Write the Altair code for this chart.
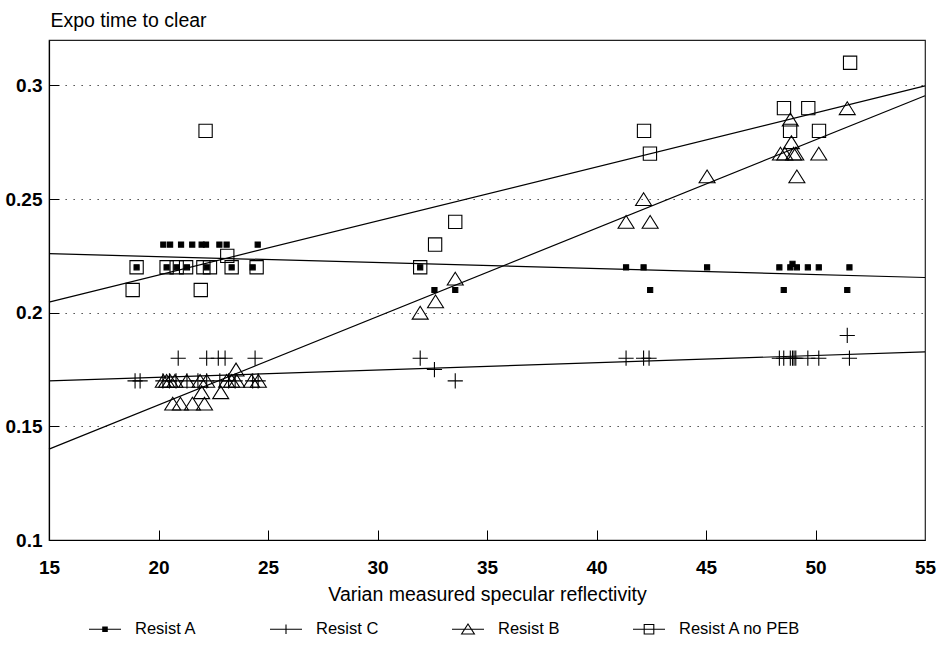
import altair as alt
import pandas as pd

series_names = ["Resist A", "Resist C", "Resist B", "Resist A no PEB"]

# Resist A (small filled squares)
a_x = [20.22, 20.53, 21.03, 21.54, 21.97, 22.17, 22.78, 23.11, 24.53,
       19.0, 20.37, 20.83, 21.3, 22.2, 23.34, 24.3,
       31.95, 32.6, 33.55,
       41.35, 42.15, 45.05, 48.35, 48.85, 48.95, 49.15, 49.65, 50.15, 51.55,
       42.45, 48.55, 51.45]
a_y = [0.23, 0.23, 0.23, 0.23, 0.23, 0.23, 0.23, 0.23, 0.23,
       0.22, 0.22, 0.22, 0.22, 0.22, 0.22, 0.22,
       0.22, 0.21, 0.21,
       0.22, 0.22, 0.22, 0.22, 0.22, 0.2215, 0.22, 0.22, 0.22, 0.22,
       0.21, 0.21, 0.21]

# Resist C (plus)
c_x = [20.9, 22.2, 22.73, 23.04, 24.41,
       18.93, 19.16, 20.2, 20.5, 20.8, 21.3, 21.8, 22.2, 22.8, 23.2, 23.5, 24.3, 24.55,
       31.95, 32.6, 33.55,
       41.35, 42.15, 42.4, 48.35, 48.55, 48.85, 48.95, 49.02, 49.1, 49.65, 50.15, 51.55,
       51.45]
c_y = [0.18, 0.18, 0.18, 0.18, 0.18,
       0.17, 0.17, 0.17, 0.17, 0.17, 0.17, 0.17, 0.17, 0.17, 0.17, 0.17, 0.17, 0.17,
       0.18, 0.175, 0.17,
       0.18, 0.18, 0.18, 0.18, 0.18, 0.18, 0.18, 0.18, 0.18, 0.18, 0.18, 0.18,
       0.19]

# Resist B (triangles)
b_x = [20.22, 20.37, 20.53, 20.75, 21.29, 21.9, 22.2, 23.11, 23.34, 23.57, 24.25, 24.56,
       20.65, 21.0, 21.55, 22.1,
       21.97, 22.84,
       23.54,
       31.95, 32.65, 33.55,
       41.35, 42.15, 42.45, 45.05, 48.4, 48.6, 49.0, 49.1, 48.9, 48.85, 49.15, 50.15, 51.45]
b_y = [0.17, 0.17, 0.17, 0.17, 0.17, 0.17, 0.17, 0.17, 0.17, 0.17, 0.17, 0.17,
       0.16, 0.16, 0.16, 0.16,
       0.165, 0.165,
       0.175,
       0.20, 0.205, 0.215,
       0.24, 0.25, 0.24, 0.26, 0.27, 0.27, 0.27, 0.27, 0.275, 0.285, 0.26, 0.27, 0.29]

# Resist A no PEB (open squares)
p_x = [19.0, 20.37, 20.83, 21.26, 22.05, 22.35, 23.34, 24.48,
       23.14, 18.82, 21.93, 22.15,
       31.95, 32.63, 33.55,
       42.17, 42.44, 48.56, 49.67, 48.84, 50.16, 51.58]
p_y = [0.22, 0.22, 0.22, 0.22, 0.22, 0.22, 0.22, 0.22,
       0.225, 0.21, 0.21, 0.28,
       0.22, 0.23, 0.24,
       0.28, 0.27, 0.29, 0.29, 0.28, 0.28, 0.31]

# fitted straight lines (value at x = 15 and at x = 55)
fit_x = [15, 55]
fit_start = [0.226, 0.170, 0.140, 0.2047]
fit_end = [0.2155, 0.1828, 0.2955, 0.2998]

x_ticks = [15, 20, 25, 30, 35, 40, 45, 50, 55]
y_ticks = [0.1, 0.15, 0.2, 0.25, 0.3]

rows = []
for name, xs, ys in zip(series_names, [a_x, c_x, b_x, p_x], [a_y, c_y, b_y, p_y]):
    for xv, yv in zip(xs, ys):
        rows.append({"series": name, "x": xv, "y": yv})
pts = pd.DataFrame(rows)

lrows = []
for name, y0, y1 in zip(series_names, fit_start, fit_end):
    lrows.append({"series": name, "x": fit_x[0], "y": y0})
    lrows.append({"series": name, "x": fit_x[1], "y": y1})
lines = pd.DataFrame(lrows)

FONT = "Liberation Sans"

plot_paths = [
    "M-0.32,-0.32H0.32V0.32H-0.32Z",
    "M-0.95,0H0.95M0,-0.95V0.95",
    "M0,-0.8L1,0.8H-1Z",
    "M-0.83,-0.83H0.83V0.83H-0.83Z",
]
legend_paths = [
    "M-1,0H1M-0.14,-0.14H0.14V0.14H-0.14ZM-0.14,-0.07H0.14M-0.14,0.07H0.14",
    "M-1,0H1M0,-0.3V0.3",
    "M-1,0H1M0,-0.33L0.4,0.3H-0.4Z",
    "M-1,0H1M-0.3,-0.3H0.3V0.3H-0.3Z",
]

xscale = alt.Scale(domain=[15, 55], nice=False, zero=False)
yscale = alt.Scale(domain=[0.1, 0.32], nice=False, zero=False)

main_x_axis = alt.Axis(
    values=x_ticks, format="d", title="Varian measured specular reflectivity",
    labelFont=FONT, labelFontSize=19, labelFontWeight="bold", labelColor="black",
    labelPadding=18, labelFlush=False, ticks=False, tickSize=0, grid=False,
    domainColor="black", domainWidth=1.2,
    titleFont=FONT, titleFontSize=19.5, titleFontWeight="normal", titleColor="black",
    titlePadding=8,
)
main_y_axis = alt.Axis(
    values=y_ticks, format="~g", title="Expo time to clear",
    labelFont=FONT, labelFontSize=19, labelFontWeight="bold", labelColor="black",
    labelPadding=7, labelFlush=False, ticks=False, tickSize=0,
    grid=True, gridColor="#333333", gridDash=[1.3, 6.7], gridWidth=1.1,
    domainColor="black", domainWidth=1.2,
    titleFont=FONT, titleFontSize=19.5, titleFontWeight="normal", titleColor="black",
    titleAngle=0, titleAlign="left", titleBaseline="alphabetic",
    titleX=1, titleY=-14,
)
tick_x_axis = alt.Axis(
    values=[20, 25, 30, 35, 40, 45, 50], orient="bottom", labels=False,
    domain=False, grid=False, ticks=True, tickSize=10, offset=-10,
    tickColor="black", tickWidth=1, title=None,
)
tick_y_axis = alt.Axis(
    values=[0.15, 0.2, 0.25, 0.3], orient="left", labels=False,
    domain=False, grid=False, ticks=True, tickSize=10, offset=-10,
    tickColor="black", tickWidth=1, title=None,
)

line_layer = alt.Chart(lines).mark_line(color="black", strokeWidth=1.2).encode(
    x=alt.X("x:Q", scale=xscale, axis=main_x_axis),
    y=alt.Y("y:Q", scale=yscale, axis=main_y_axis),
    detail="series:N",
)

point_layer = alt.Chart(pts).mark_point(filled=False, strokeWidth=1.1, opacity=1).encode(
    x=alt.X("x:Q", scale=xscale, axis=tick_x_axis),
    y=alt.Y("y:Q", scale=yscale, axis=tick_y_axis),
    shape=alt.Shape("series:N", scale=alt.Scale(domain=series_names, range=plot_paths), legend=None),
    fill=alt.Fill("series:N", scale=alt.Scale(domain=series_names,
                  range=["black", "transparent", "transparent", "transparent"]), legend=None),
    stroke=alt.value("black"),
    size=alt.value(256),
)

legend_layer = alt.Chart(pts).mark_point(filled=False, opacity=0).encode(
    x=alt.X("x:Q", scale=xscale, axis=None),
    y=alt.Y("y:Q", scale=yscale, axis=None),
    shape=alt.Shape(
        "series:N",
        scale=alt.Scale(domain=series_names, range=legend_paths),
        legend=alt.Legend(
            title=None, orient="none", legendX=39, legendY=572,
            direction="horizontal", columns=4, columnPadding=70,
            labelFont=FONT, labelFontSize=16.5, labelColor="black", labelOffset=13,
            symbolSize=1024, symbolStrokeWidth=1.1, symbolStrokeColor="black",
            symbolFillColor="transparent", symbolOpacity=1,
        ),
    ),
)

chart = alt.layer(line_layer, point_layer, legend_layer).resolve_scale(
    shape="independent"
).resolve_axis(
    x="independent", y="independent"
).properties(
    width=876, height=500,
    autosize=alt.AutoSizeParams(type="none"),
    padding={"left": 49, "top": 40, "right": 14, "bottom": 124},
    background="white",
).configure_view(
    stroke="#222222", strokeWidth=1.2
)

chart.save("out.html", embed_options={"renderer": "svg", "actions": False})
